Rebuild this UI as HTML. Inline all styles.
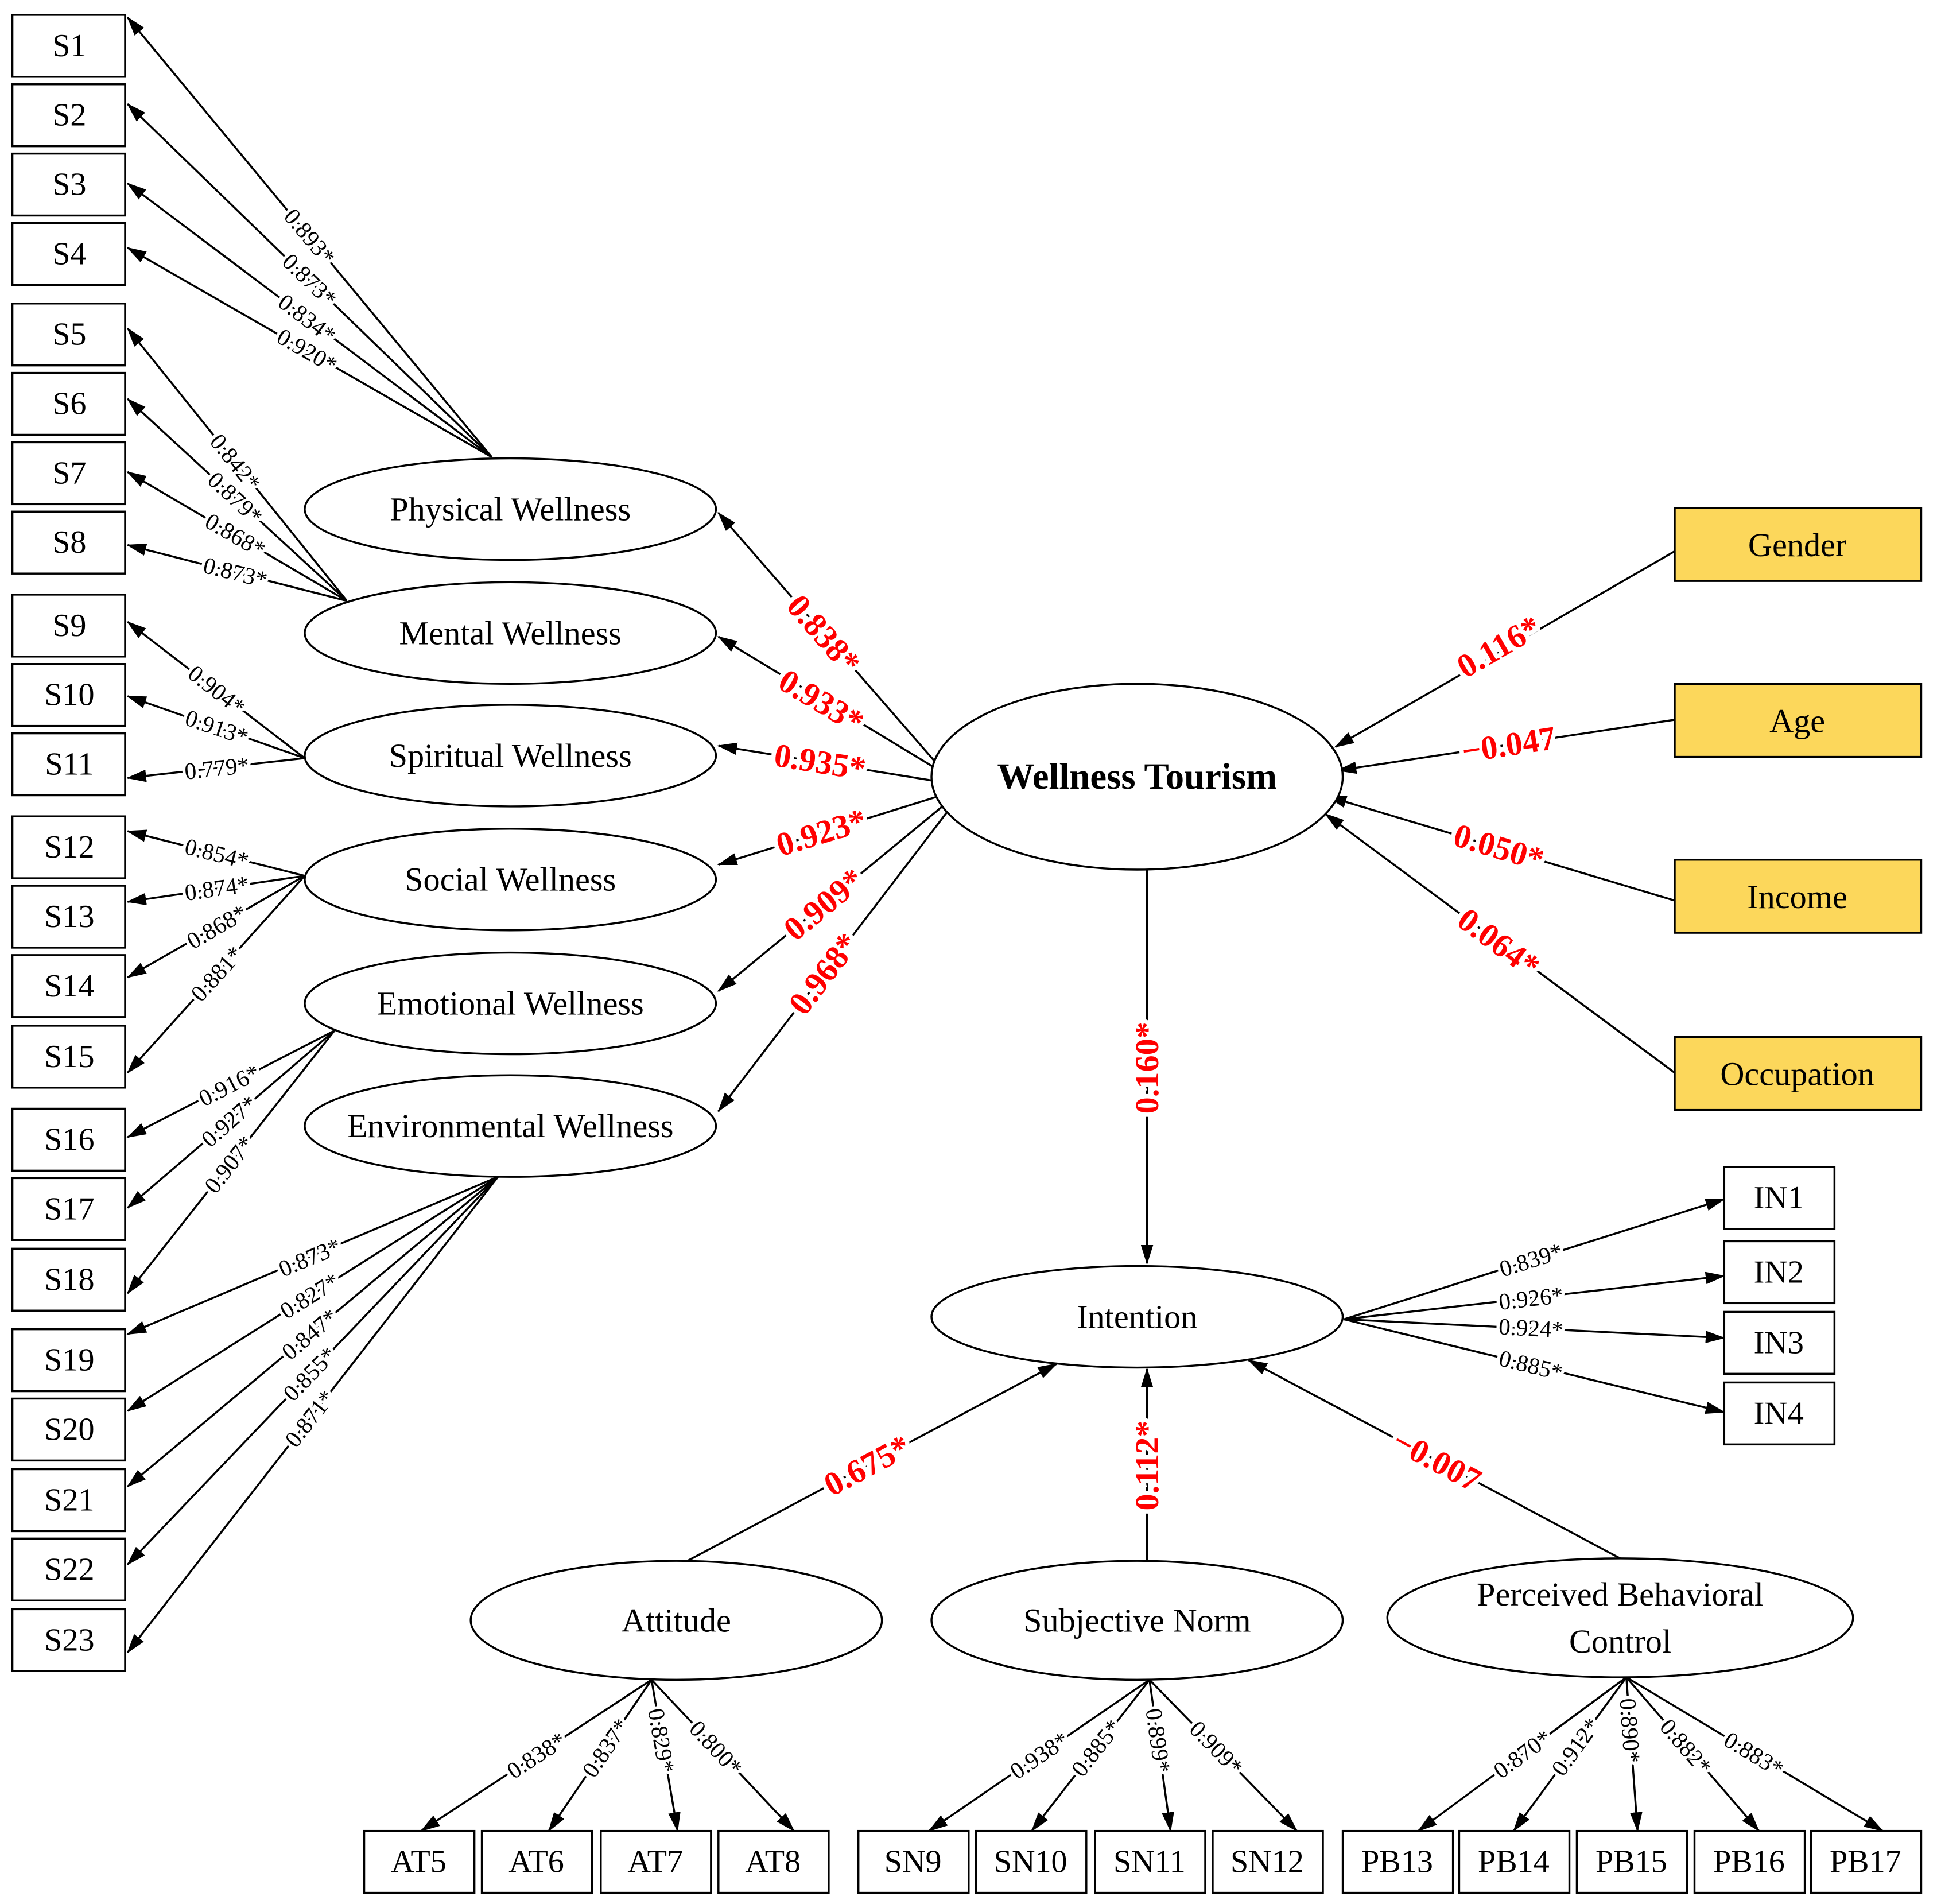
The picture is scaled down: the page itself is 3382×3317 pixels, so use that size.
<!DOCTYPE html>
<html><head><meta charset="utf-8"><style>
html,body{margin:0;padding:0;background:#fff}
svg{display:block}
text{font-family:"Liberation Serif",serif}
.b{font-size:26px;text-anchor:middle;dominant-baseline:central}
.e{font-size:27px;text-anchor:middle;dominant-baseline:central}
.l{font-size:19px;text-anchor:middle;dominant-baseline:central;paint-order:stroke;stroke:#fff;stroke-width:5px}
.r{font-size:27px;font-weight:bold;fill:#f00;text-anchor:middle;dominant-baseline:central;paint-order:stroke;stroke:#fff;stroke-width:7px}
line{stroke:#000;stroke-width:1.6;marker-end:url(#a)}
rect{fill:#fff;stroke:#000;stroke-width:1.6}
rect.g{fill:#fcd75b}
ellipse{fill:#fff;stroke:#000;stroke-width:1.6}
</style></head><body>
<svg width="3382" height="3317" viewBox="0 0 1567 1537" preserveAspectRatio="none" xmlns="http://www.w3.org/2000/svg">
<defs><marker id="a" markerWidth="16" markerHeight="10" refX="15" refY="5" orient="auto" markerUnits="userSpaceOnUse"><path d="M0,0 L16,5 L0,10 z" fill="#000"/></marker></defs>

<line x1="397" y1="369" x2="103" y2="14"/>
<line x1="397" y1="369" x2="103" y2="84"/>
<line x1="397" y1="369" x2="103" y2="148"/>
<line x1="397" y1="369" x2="103" y2="200"/>
<line x1="280" y1="485" x2="103" y2="265"/>
<line x1="280" y1="485" x2="103" y2="322"/>
<line x1="280" y1="485" x2="103" y2="381"/>
<line x1="280" y1="485" x2="103" y2="440"/>
<line x1="246" y1="612" x2="103" y2="502"/>
<line x1="246" y1="612" x2="103" y2="562"/>
<line x1="246" y1="612" x2="103" y2="628"/>
<line x1="246" y1="707" x2="103" y2="671"/>
<line x1="246" y1="707" x2="103" y2="728"/>
<line x1="246" y1="707" x2="103" y2="789"/>
<line x1="246" y1="707" x2="103" y2="866"/>
<line x1="270" y1="832" x2="103" y2="918"/>
<line x1="270" y1="832" x2="103" y2="975"/>
<line x1="270" y1="832" x2="103" y2="1044"/>
<line x1="402" y1="950" x2="103" y2="1077"/>
<line x1="402" y1="950" x2="103" y2="1139"/>
<line x1="402" y1="950" x2="103" y2="1200"/>
<line x1="402" y1="950" x2="103" y2="1263"/>
<line x1="402" y1="950" x2="103" y2="1334"/>

<line x1="755" y1="615" x2="580" y2="414"/>
<line x1="755" y1="620" x2="580" y2="514"/>
<line x1="752" y1="630" x2="580" y2="602"/>
<line x1="757" y1="643" x2="580" y2="698"/>
<line x1="762" y1="650" x2="580" y2="800"/>
<line x1="765" y1="655" x2="580" y2="897"/>

<line x1="1352" y1="445" x2="1078" y2="603"/>
<line x1="1352" y1="581" x2="1080" y2="622"/>
<line x1="1352" y1="727" x2="1072" y2="643"/>
<line x1="1352" y1="866" x2="1070" y2="657"/>

<line x1="926" y1="702" x2="926" y2="1020"/>
<line x1="1085" y1="1065" x2="1392" y2="968"/>
<line x1="1085" y1="1065" x2="1392" y2="1030"/>
<line x1="1085" y1="1065" x2="1392" y2="1080"/>
<line x1="1085" y1="1065" x2="1392" y2="1140"/>

<line x1="555" y1="1260" x2="853" y2="1101"/>
<line x1="926" y1="1260" x2="926" y2="1105"/>
<line x1="1308" y1="1258" x2="1008" y2="1098"/>

<line x1="526" y1="1356" x2="340" y2="1478"/>
<line x1="526" y1="1356" x2="443" y2="1478"/>
<line x1="526" y1="1356" x2="547" y2="1478"/>
<line x1="526" y1="1356" x2="641" y2="1478"/>
<line x1="928" y1="1356" x2="750" y2="1478"/>
<line x1="928" y1="1356" x2="833" y2="1478"/>
<line x1="928" y1="1356" x2="945" y2="1478"/>
<line x1="928" y1="1356" x2="1047" y2="1478"/>
<line x1="1313" y1="1354" x2="1145" y2="1478"/>
<line x1="1313" y1="1354" x2="1222" y2="1478"/>
<line x1="1313" y1="1354" x2="1322" y2="1478"/>
<line x1="1313" y1="1354" x2="1420" y2="1478"/>
<line x1="1313" y1="1354" x2="1520" y2="1478"/>

<g>
<rect x="10" y="12" width="91" height="50"/><text class="b" x="56" y="37">S1</text>
<rect x="10" y="68" width="91" height="50"/><text class="b" x="56" y="93">S2</text>
<rect x="10" y="124" width="91" height="50"/><text class="b" x="56" y="149">S3</text>
<rect x="10" y="180" width="91" height="50"/><text class="b" x="56" y="205">S4</text>
<rect x="10" y="245" width="91" height="50"/><text class="b" x="56" y="270">S5</text>
<rect x="10" y="301" width="91" height="50"/><text class="b" x="56" y="326">S6</text>
<rect x="10" y="357" width="91" height="50"/><text class="b" x="56" y="382">S7</text>
<rect x="10" y="413" width="91" height="50"/><text class="b" x="56" y="438">S8</text>
<rect x="10" y="480" width="91" height="50"/><text class="b" x="56" y="505">S9</text>
<rect x="10" y="536" width="91" height="50"/><text class="b" x="56" y="561">S10</text>
<rect x="10" y="592" width="91" height="50"/><text class="b" x="56" y="617">S11</text>
<rect x="10" y="659" width="91" height="50"/><text class="b" x="56" y="684">S12</text>
<rect x="10" y="715" width="91" height="50"/><text class="b" x="56" y="740">S13</text>
<rect x="10" y="771" width="91" height="50"/><text class="b" x="56" y="796">S14</text>
<rect x="10" y="828" width="91" height="50"/><text class="b" x="56" y="853">S15</text>
<rect x="10" y="895" width="91" height="50"/><text class="b" x="56" y="920">S16</text>
<rect x="10" y="951" width="91" height="50"/><text class="b" x="56" y="976">S17</text>
<rect x="10" y="1008" width="91" height="50"/><text class="b" x="56" y="1033">S18</text>
<rect x="10" y="1073" width="91" height="50"/><text class="b" x="56" y="1098">S19</text>
<rect x="10" y="1129" width="91" height="50"/><text class="b" x="56" y="1154">S20</text>
<rect x="10" y="1186" width="91" height="50"/><text class="b" x="56" y="1211">S21</text>
<rect x="10" y="1242" width="91" height="50"/><text class="b" x="56" y="1267">S22</text>
<rect x="10" y="1299" width="91" height="50"/><text class="b" x="56" y="1324">S23</text>
</g>

<ellipse cx="412" cy="411" rx="166" ry="41"/><text class="e" x="412" y="411">Physical Wellness</text>
<ellipse cx="412" cy="511" rx="166" ry="41"/><text class="e" x="412" y="511">Mental Wellness</text>
<ellipse cx="412" cy="610" rx="166" ry="41"/><text class="e" x="412" y="610">Spiritual Wellness</text>
<ellipse cx="412" cy="710" rx="166" ry="41"/><text class="e" x="412" y="710">Social Wellness</text>
<ellipse cx="412" cy="810" rx="166" ry="41"/><text class="e" x="412" y="810">Emotional Wellness</text>
<ellipse cx="412" cy="909" rx="166" ry="41"/><text class="e" x="412" y="909">Environmental Wellness</text>
<ellipse cx="918" cy="627" rx="166" ry="75"/><text class="e" x="918" y="627" style="font-weight:bold;font-size:30px">Wellness Tourism</text>
<ellipse cx="918" cy="1063" rx="166" ry="41"/><text class="e" x="918" y="1063">Intention</text>
<ellipse cx="546" cy="1308" rx="166" ry="48"/><text class="e" x="546" y="1308">Attitude</text>
<ellipse cx="918" cy="1308" rx="166" ry="48"/><text class="e" x="918" y="1308">Subjective Norm</text>
<ellipse cx="1308" cy="1306" rx="188" ry="48"/><text class="e" x="1308" y="1287">Perceived Behavioral</text><text class="e" x="1308" y="1325">Control</text>

<rect class="g" x="1352" y="410" width="199" height="59"/><text class="e" x="1451" y="440">Gender</text>
<rect class="g" x="1352" y="552" width="199" height="59"/><text class="e" x="1451" y="582">Age</text>
<rect class="g" x="1352" y="694" width="199" height="59"/><text class="e" x="1451" y="724">Income</text>
<rect class="g" x="1352" y="837" width="199" height="59"/><text class="e" x="1451" y="867">Occupation</text>

<rect x="1392" y="942" width="89" height="50"/><text class="b" x="1436" y="967">IN1</text>
<rect x="1392" y="1002" width="89" height="50"/><text class="b" x="1436" y="1027">IN2</text>
<rect x="1392" y="1059" width="89" height="50"/><text class="b" x="1436" y="1084">IN3</text>
<rect x="1392" y="1116" width="89" height="50"/><text class="b" x="1436" y="1141">IN4</text>

<rect x="294" y="1478" width="89" height="50"/><text class="b" x="338" y="1503">AT5</text>
<rect x="389" y="1478" width="89" height="50"/><text class="b" x="433" y="1503">AT6</text>
<rect x="485" y="1478" width="89" height="50"/><text class="b" x="529" y="1503">AT7</text>
<rect x="580" y="1478" width="89" height="50"/><text class="b" x="624" y="1503">AT8</text>
<rect x="693" y="1478" width="89" height="50"/><text class="b" x="737" y="1503">SN9</text>
<rect x="788" y="1478" width="89" height="50"/><text class="b" x="832" y="1503">SN10</text>
<rect x="884" y="1478" width="89" height="50"/><text class="b" x="928" y="1503">SN11</text>
<rect x="979" y="1478" width="89" height="50"/><text class="b" x="1023" y="1503">SN12</text>
<rect x="1084" y="1478" width="89" height="50"/><text class="b" x="1128" y="1503">PB13</text>
<rect x="1178" y="1478" width="89" height="50"/><text class="b" x="1222" y="1503">PB14</text>
<rect x="1273" y="1478" width="89" height="50"/><text class="b" x="1317" y="1503">PB15</text>
<rect x="1368" y="1478" width="89" height="50"/><text class="b" x="1412" y="1503">PB16</text>
<rect x="1462" y="1478" width="89" height="50"/><text class="b" x="1506" y="1503">PB17</text>

<text class="l" transform="translate(250,191) rotate(50)">0.893*</text>
<text class="l" transform="translate(250,226) rotate(44)">0.873*</text>
<text class="l" transform="translate(248,257) rotate(37)">0.834*</text>
<text class="l" transform="translate(248,283) rotate(30)">0.920*</text>
<text class="l" transform="translate(190,373) rotate(51)">0.842*</text>
<text class="l" transform="translate(190,402) rotate(43)">0.879*</text>
<text class="l" transform="translate(190,432) rotate(30)">0.868*</text>
<text class="l" transform="translate(190,462) rotate(14)">0.873*</text>
<text class="l" transform="translate(175,557) rotate(38)">0.904*</text>
<text class="l" transform="translate(175,587) rotate(19)">0.913*</text>
<text class="l" transform="translate(175,620) rotate(-6)">0.779*</text>
<text class="l" transform="translate(175,689) rotate(14)">0.854*</text>
<text class="l" transform="translate(175,717) rotate(-8)">0.874*</text>
<text class="l" transform="translate(175,748) rotate(-30)">0.868*</text>
<text class="l" transform="translate(175,786) rotate(-48)">0.881*</text>
<text class="l" transform="translate(185,876) rotate(-27)">0.916*</text>
<text class="l" transform="translate(185,905) rotate(-41)">0.927*</text>
<text class="l" transform="translate(185,940) rotate(-52)">0.907*</text>
<text class="l" transform="translate(250,1015) rotate(-23)">0.873*</text>
<text class="l" transform="translate(250,1046) rotate(-32)">0.827*</text>
<text class="l" transform="translate(250,1077) rotate(-40)">0.847*</text>
<text class="l" transform="translate(250,1109) rotate(-46)">0.855*</text>
<text class="l" transform="translate(250,1145) rotate(-52)">0.871*</text>

<text class="l" transform="translate(1236,1017) rotate(-17.5)">0.839*</text>
<text class="l" transform="translate(1236,1048) rotate(-6.5)">0.926*</text>
<text class="l" transform="translate(1236,1072) rotate(3)">0.924*</text>
<text class="l" transform="translate(1236,1102) rotate(13.7)">0.885*</text>

<text class="l" transform="translate(433,1417) rotate(-33)">0.838*</text>
<text class="l" transform="translate(489,1411) rotate(-56)">0.837*</text>
<text class="l" transform="translate(534,1405) rotate(80)">0.829*</text>
<text class="l" transform="translate(578,1411) rotate(47)">0.800*</text>
<text class="l" transform="translate(839,1417) rotate(-34)">0.938*</text>
<text class="l" transform="translate(885,1411) rotate(-52)">0.885*</text>
<text class="l" transform="translate(935,1405) rotate(82)">0.899*</text>
<text class="l" transform="translate(982,1411) rotate(46)">0.909*</text>
<text class="l" transform="translate(1229,1416) rotate(-36)">0.870*</text>
<text class="l" transform="translate(1272,1410) rotate(-54)">0.912*</text>
<text class="l" transform="translate(1316,1397) rotate(86)">0.890*</text>
<text class="l" transform="translate(1361,1410) rotate(49)">0.882*</text>
<text class="l" transform="translate(1416,1416) rotate(31)">0.883*</text>

<text class="r" transform="translate(665,512) rotate(49)">0.838*</text>
<text class="r" transform="translate(663,566) rotate(31)">0.933*</text>
<text class="r" transform="translate(662,615) rotate(9)">0.935*</text>
<text class="r" transform="translate(663,672) rotate(-17)">0.923*</text>
<text class="r" transform="translate(665,730) rotate(-39.5)">0.909*</text>
<text class="r" transform="translate(665,786) rotate(-52.6)">0.968*</text>
<text class="r" transform="translate(1210,522) rotate(-30)">0.116*</text>
<text class="r" transform="translate(1218,601) rotate(-8.6)">−0.047</text>
<text class="r" transform="translate(1210,684) rotate(16.7)">0.050*</text>
<text class="r" transform="translate(1210,761) rotate(36.5)">0.064*</text>
<text class="r" transform="translate(926,862) rotate(-90)">0.160*</text>
<text class="r" transform="translate(700,1183) rotate(-28)">0.675*</text>
<text class="r" transform="translate(926,1183) rotate(-90)">0.112*</text>
<text class="r" transform="translate(1160,1179) rotate(28)">−0.007</text>
</svg>
</body></html>
